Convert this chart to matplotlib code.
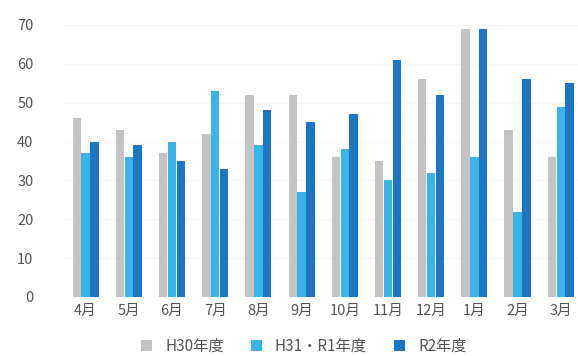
import numpy as np
import matplotlib
matplotlib.use('Agg')
from matplotlib import pyplot as plt

plt.rcParams['font.family'] = ['Noto Sans CJK JP', 'DejaVu Sans']

months = ['4月', '5月', '6月', '7月', '8月', '9月', '10月', '11月', '12月', '1月', '2月', '3月']
h30 = [46, 43, 37, 42, 52, 52, 36, 35, 56, 69, 43, 36]
h31_r1 = [37, 36, 40, 53, 39, 27, 38, 30, 32, 36, 22, 49]
r2 = [40, 39, 35, 33, 48, 45, 47, 61, 52, 69, 56, 55]
series_names = ['H30年度', 'H31・R1年度', 'R2年度']
colors = ['#c3c3c6', '#3ab4e6', '#1b76c4']

fig = plt.figure(figsize=(5.78, 3.56), dpi=100)
ax = fig.add_axes([64 / 578, 1 - 297 / 356, 1 - 64 / 578, (297 - 25) / 356])

x = np.arange(len(months))
w = 0.205
for i, (vals, name, c) in enumerate(zip([h30, h31_r1, r2], series_names, colors)):
    ax.bar(x + (i - 1) * w, vals, width=w * 0.95, color=c, label=name, zorder=2)

ax.set_xlim(-0.5, 11.4)
ax.set_ylim(0, 70)
ax.set_yticks(range(0, 71, 10))
ax.set_xticks(x)
ax.set_xticklabels(months)
ax.tick_params(axis='y', length=0, pad=22, labelsize=10.5, labelcolor='#555555')
ax.tick_params(axis='x', length=0, pad=5, labelsize=10.5, labelcolor='#555555')
for s in ax.spines.values():
    s.set_visible(False)
ax.grid(axis='y', color='#f6f6f6', linewidth=1, zorder=0)

fig.legend(loc='center', bbox_to_anchor=(304 / 578, 1 - 346 / 356), ncol=3, frameon=False,
           fontsize=11, handlelength=0.7, handleheight=0.7, columnspacing=1.8,
           handletextpad=0.85, labelcolor='#555555')

fig.savefig('out.png', dpi=100)
plt.close()
